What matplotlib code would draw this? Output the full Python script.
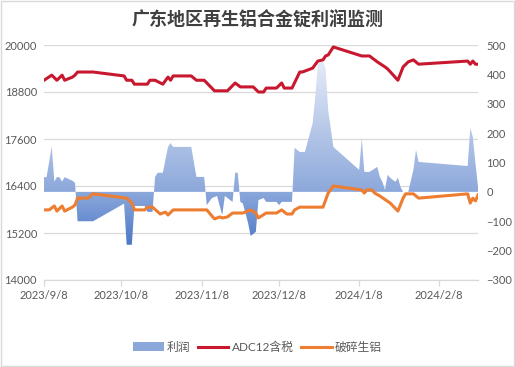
import numpy as np
import pandas as pd
import matplotlib
matplotlib.use("Agg")
import matplotlib.pyplot as plt
import matplotlib.dates as mdates
from matplotlib.colors import LinearSegmentedColormap
from matplotlib.patches import PathPatch, Patch, Rectangle
from matplotlib.lines import Line2D

plt.rcParams['font.family'] = ['Lato', 'Noto Sans CJK SC', 'DejaVu Sans']

# ── Data ─────────────────────────────────────────────────────────────────────
adc_dates = ["2023-09-08", "2023-09-11", "2023-09-13", "2023-09-15", "2023-09-16",
             "2023-09-19", "2023-09-20", "2023-09-21", "2023-09-27", "2023-10-09",
             "2023-10-10", "2023-10-12", "2023-10-13", "2023-10-18", "2023-10-19",
             "2023-10-21", "2023-10-24", "2023-10-26", "2023-10-27", "2023-10-28",
             "2023-11-04", "2023-11-06", "2023-11-09", "2023-11-13", "2023-11-18",
             "2023-11-21", "2023-11-23", "2023-11-28", "2023-11-30", "2023-12-02",
             "2023-12-03", "2023-12-07", "2023-12-09", "2023-12-10", "2023-12-13",
             "2023-12-16", "2023-12-17", "2023-12-21", "2023-12-23", "2023-12-25",
             "2023-12-26", "2023-12-27", "2023-12-29", "2024-01-09", "2024-01-12",
             "2024-01-15", "2024-01-18", "2024-01-19", "2024-01-23", "2024-01-25",
             "2024-01-27", "2024-01-29", "2024-01-31", "2024-02-19", "2024-02-20",
             "2024-02-21", "2024-02-22", "2024-02-23"]
adc_vals = [19100, 19230, 19100, 19230, 19100, 19180, 19230, 19310, 19310, 19210,
            19100, 19100, 19000, 19000, 19100, 19100, 19000, 19180, 19100, 19210,
            19210, 19100, 19100, 18830, 18830, 19030, 18930, 18930, 18800, 18800,
            18900, 18900, 19030, 18900, 18900, 19310, 19310, 19410, 19590, 19620,
            19720, 19745, 19950, 19720, 19720, 19570, 19440, 19390, 19100, 19440,
            19570, 19620, 19510, 19590, 19510, 19590, 19510, 19510]

scrap_dates = ["2023-09-08", "2023-09-10", "2023-09-12", "2023-09-13", "2023-09-15",
               "2023-09-16", "2023-09-19", "2023-09-20", "2023-09-21", "2023-09-25",
               "2023-09-27", "2023-10-10", "2023-10-12", "2023-10-13", "2023-10-17",
               "2023-10-18", "2023-10-20", "2023-10-23", "2023-10-25", "2023-10-26",
               "2023-10-28", "2023-11-10", "2023-11-12", "2023-11-13", "2023-11-15",
               "2023-11-16", "2023-11-18", "2023-11-20", "2023-11-24", "2023-11-27",
               "2023-11-29", "2023-11-30", "2023-12-03", "2023-12-07", "2023-12-09",
               "2023-12-11", "2023-12-13", "2023-12-14", "2023-12-16", "2023-12-25",
               "2023-12-27", "2023-12-29", "2024-01-09", "2024-01-10", "2024-01-11",
               "2024-01-13", "2024-01-14", "2024-01-16", "2024-01-20", "2024-01-23",
               "2024-01-25", "2024-01-26", "2024-01-29", "2024-01-31", "2024-02-19",
               "2024-02-20", "2024-02-21", "2024-02-22", "2024-02-23"]
scrap_vals = [15790, 15790, 15890, 15760, 15890, 15760, 15860, 15915, 16090, 16090,
              16200, 16090, 15970, 15790, 15790, 15860, 15860, 15685, 15735, 15660,
              15790, 15790, 15635, 15560, 15610, 15585, 15610, 15710, 15710, 15790,
              15710, 15585, 15710, 15710, 15790, 15685, 15685, 15790, 15860, 15860,
              16220, 16400, 16300, 16220, 16300, 16300, 16220, 16145, 15965, 15760,
              16090, 16200, 16200, 16090, 16200, 15965, 16090, 16020, 16170]

profit_dates = ["2023-09-08", "2023-09-09", "2023-09-11", "2023-09-12", "2023-09-13",
                "2023-09-14", "2023-09-15", "2023-09-16", "2023-09-19", "2023-09-20",
                "2023-09-21", "2023-09-27", "2023-10-09", "2023-10-10", "2023-10-12",
                "2023-10-13", "2023-10-17", "2023-10-18", "2023-10-20", "2023-10-21",
                "2023-10-22", "2023-10-24", "2023-10-26", "2023-10-27", "2023-10-28",
                "2023-11-04", "2023-11-06", "2023-11-09", "2023-11-10", "2023-11-12",
                "2023-11-14", "2023-11-16", "2023-11-17", "2023-11-20", "2023-11-21",
                "2023-11-22", "2023-11-23", "2023-11-24", "2023-11-26", "2023-11-27",
                "2023-11-29", "2023-11-30", "2023-12-02", "2023-12-03", "2023-12-07",
                "2023-12-08", "2023-12-09", "2023-12-13", "2023-12-14", "2023-12-16",
                "2023-12-18", "2023-12-21", "2023-12-22", "2023-12-23", "2023-12-25",
                "2023-12-26", "2023-12-27", "2023-12-29", "2024-01-08", "2024-01-09",
                "2024-01-10", "2024-01-12", "2024-01-15", "2024-01-16", "2024-01-17",
                "2024-01-18", "2024-01-19", "2024-01-20", "2024-01-22", "2024-01-23",
                "2024-01-24", "2024-01-25", "2024-01-27", "2024-01-29", "2024-01-30",
                "2024-01-31", "2024-02-19", "2024-02-20", "2024-02-21", "2024-02-22",
                "2024-02-23"]
profit_vals = [50, 50, 155, 35, 50, 50, 35, 50, 38, 31,
               -100, -100, -40, -180, -180, -48, -48, -68, -68, 51,
               65, 65, 153, 166, 153, 153, 51, 51, -45, -21,
               -14, -79, -14, -34, 65, 65, -34, -40, -106, -150,
               -136, -28, -21, -34, -34, -45, -34, -34, 150, 136,
               136, 234, 323, 435, 445, 421, 279, 153, 75, 183,
               68, 68, 85, 51, 34, 7, 58, 48, 34, 48,
               17, 0, 0, 75, 143, 102, 88, 218, 187, 99,
               17]

tick_dates = ["2023-09-08", "2023-10-08", "2023-11-08", "2023-12-08", "2024-01-08", "2024-02-08"]
tick_labels = ["2023/9/8", "2023/10/8", "2023/11/8", "2023/12/8", "2024/1/8", "2024/2/8"]
x_start, x_end = "2023-09-08", "2024-02-23"

TITLE = "广东地区再生铝合金锭利润监测"
COLOR_RED = "#C8182F"
COLOR_ORANGE = "#ED7D31"
GRID = "#D9D9D9"
TXT = "#595959"

# ── Figure / axes ────────────────────────────────────────────────────────────
fig = plt.figure(figsize=(5.15, 3.67), dpi=100)
fig.patch.set_facecolor("white")
ax = fig.add_axes([44 / 515, 1 - 280 / 367, (478 - 44) / 515, (280 - 45) / 367])
ax2 = ax.twinx()
ax3 = fig.add_axes(ax.get_position(), sharex=ax, sharey=ax)
ax3.axis("off")
ax3.patch.set_visible(False)

xa = pd.to_datetime(adc_dates)
xs = pd.to_datetime(scrap_dates)
xp = pd.to_datetime(profit_dates)
xlim = (pd.Timestamp(x_start), pd.Timestamp(x_end))

# profit area with vertical gradient (right axis)
poly = ax2.fill_between(xp, profit_vals, 0, facecolor="none", edgecolor="none", linewidth=0)
clip = PathPatch(poly.get_paths()[0], transform=ax2.transData, facecolor="none", edgecolor="none")
ax2.add_patch(clip)
cmap = LinearSegmentedColormap.from_list(
    "grad", [(0, "#4471C4"), (0.14, "#4A76C6"), (0.375, "#8CA8DB"), (0.94, "#E6ECF7"), (1, "#EEF2FA")])
grad = np.linspace(0, 1, 256).reshape(-1, 1)
im = ax2.imshow(grad, cmap=cmap, origin="lower", aspect="auto", interpolation="bilinear",
                extent=[mdates.date2num(xlim[0]), mdates.date2num(xlim[1]), -300, 500], zorder=1)
im.set_clip_path(clip)

# lines (left axis, drawn on overlay so they sit above the area)
ax3.plot(xa, adc_vals, color=COLOR_RED, lw=2.2, solid_joinstyle="round")
ax3.plot(xs, scrap_vals, color=COLOR_ORANGE, lw=2.2, solid_joinstyle="round")

# ── Axes formatting ──────────────────────────────────────────────────────────
ax.set_xlim(*xlim)
ax.set_ylim(14000, 20000)
ax.set_yticks(np.arange(14000, 20001, 1200))
ax2.set_ylim(-300, 500)
ax2.set_yticks(np.arange(-300, 501, 100))
ax.set_xticks(pd.to_datetime(tick_dates))
ax.set_xticklabels(tick_labels)

ax.yaxis.grid(True, color=GRID, linewidth=0.9)
ax.set_axisbelow(True)
for a in (ax, ax2):
    for s in ("top", "right", "left"):
        a.spines[s].set_visible(False)
ax2.spines["bottom"].set_visible(False)
ax.spines["bottom"].set_color(GRID)
ax.spines["bottom"].set_linewidth(0.9)

ax.tick_params(axis="y", length=0, pad=5, labelsize=8, labelcolor=TXT)
ax2.tick_params(axis="y", length=0, pad=6, labelsize=8, labelcolor=TXT)
ax.tick_params(axis="x", length=4, width=0.9, color=GRID, pad=3, labelsize=8, labelcolor=TXT)

# ── Title, legend, frame ─────────────────────────────────────────────────────
fig.text(0.5, 1 - 20 / 367, TITLE, ha="center", va="center", fontsize=13,
         fontweight="bold", color="#404040", family=["Noto Sans CJK SC"])

handles = [Patch(facecolor="#8CA8DB", edgecolor="none"),
           Line2D([], [], color=COLOR_RED, lw=2.2),
           Line2D([], [], color=COLOR_ORANGE, lw=2.2)]
fig.legend(handles, ["利润", "ADC12含税", "破碎生铝"], loc="center", ncol=3,
           bbox_to_anchor=(0.5, 1 - 347 / 367), frameon=False, fontsize=8.5,
           handlelength=2.6, handletextpad=0.3, columnspacing=0.6, labelcolor=TXT)

fig.patches.append(Rectangle((0.002, 0.003), 0.996, 0.994, transform=fig.transFigure,
                             fill=False, edgecolor=GRID, linewidth=1))

fig.savefig("out.png", dpi=100, facecolor="white")
